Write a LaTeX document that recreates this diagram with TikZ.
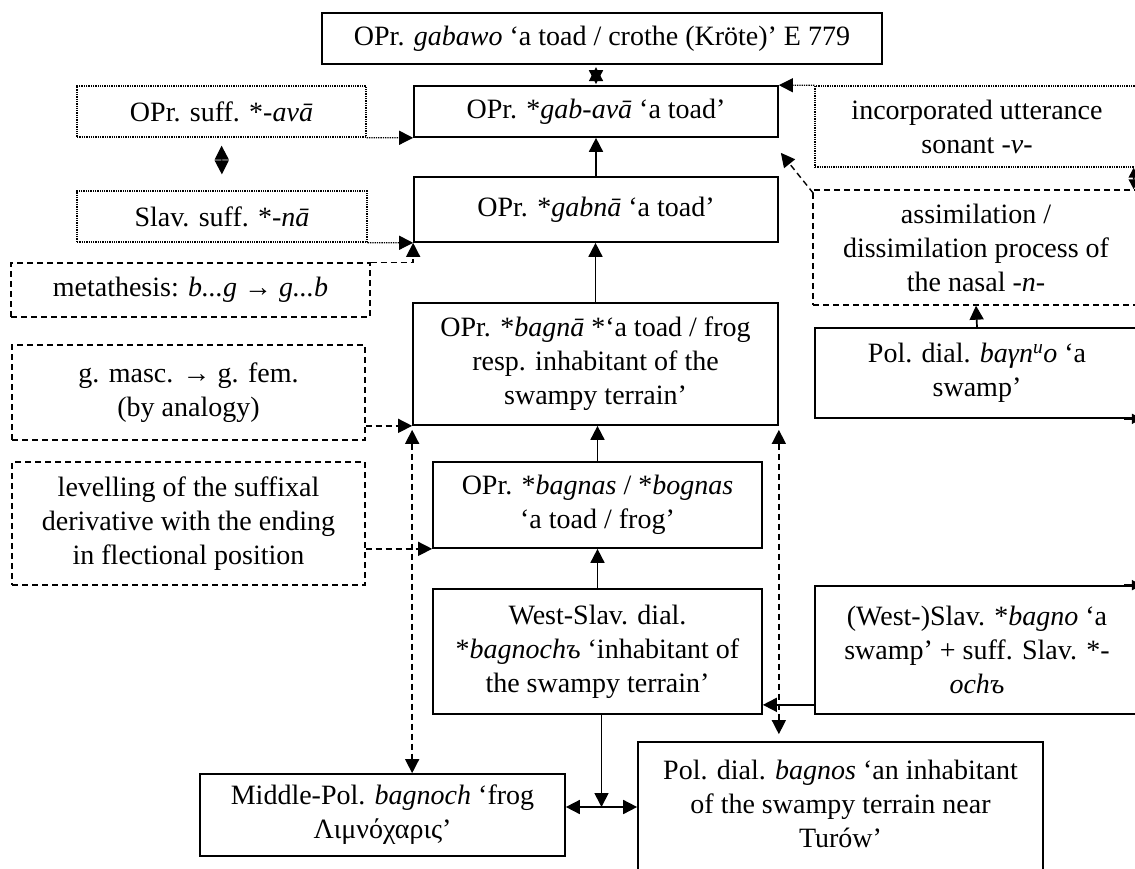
\documentclass[tikz,border=0pt]{standalone}
\usepackage{fontspec}
\setmainfont{Liberation Serif}
\usetikzlibrary{arrows.meta}

% box helper: name, style, x1, y1, x2, y2, text
\newcommand\etybox[7]{%
  \node[#2, minimum width={#5-#3}, minimum height={#6-#4}]
    (#1) at ({(#3+#5)/2},{(#4+#6)/2}) {#7};}

\begin{document}
\begin{tikzpicture}[x=1pt,y=-1pt,
  txt/.style={align=center, inner sep=0pt, font=\fontsize{28}{34}\selectfont},
  box/.style={txt, draw, line width=1.7pt},
  dotbox/.style={box, line width=1.3pt, densely dotted},
  dashbox/.style={box, line width=1.4pt, dash pattern=on 6pt off 4pt},
  solidc/.style={line width=1.7pt},
  dotc/.style={line width=1.3pt, densely dotted},
  dashc/.style={line width=1.4pt, dash pattern=on 6pt off 4pt},
  tip/.tip={Triangle[length=14pt,width=14pt]},
  stip/.tip={Triangle[length=10pt,width=10pt]},
  ]
\clip (0,0) rectangle (1135,869);
\fill[white] (0,0) rectangle (1135,869);

% central chain
\etybox{top}{box}{322}{13}{882}{64}{OPr. \textit{gabawo} ‘a toad / crothe (Kröte)’ E 779}
\etybox{gabava}{box}{414}{86}{778}{137}{OPr. *\textit{gab-avā} ‘a toad’}
\etybox{gabna}{box}{414}{177}{778}{242}{OPr. *\textit{gabnā} ‘a toad’}
\etybox{bagna}{box}{413}{303}{778}{425}{OPr. *\textit{bagnā} *‘a toad / frog\\resp. inhabitant of the\\swampy terrain’}
\etybox{bagnas}{box}{433}{462}{762}{548}{OPr. *\textit{bagnas} / *\textit{bognas}\\‘a toad / frog’}
\etybox{westslav}{box}{433}{589}{762}{714}{West-Slav. dial.\\*\textit{bagnochъ} ‘inhabitant of\\the swampy terrain’}
\etybox{middlepol}{box}{200}{774}{565}{856}{Middle-Pol. \textit{bagnoch} ‘frog\\Λιμνόχαρις’}
\etybox{bagnos}{box}{638}{742}{1043}{885}{}
\node[txt] (bagnostext) at ([yshift=10pt]bagnos.center)
  {Pol. dial. \textit{bagnos} ‘an inhabitant\\of the swampy terrain near\\Turów’};

% left-hand processes
\etybox{ava}{dotbox}{77}{86}{366}{137}{OPr. suff. *-\textit{avā}}
\etybox{slavsuff}{dotbox}{77}{191}{367}{242}{Slav. suff. *-\textit{nā}}
\etybox{meta}{dashbox}{11}{263}{370}{317}{metathesis: \textit{b...g} → \textit{g...b}}
\etybox{gmasc}{dashbox}{12}{345}{365}{440}{g. masc. → g. fem.\\(by analogy)}
\etybox{lev}{dashbox}{12}{462}{365}{585}{levelling of the suffixal\\derivative with the ending\\in flectional position}

% right-hand processes and sources
\etybox{incorp}{dotbox}{815}{86}{1139}{167}{incorporated utterance\\sonant -\textit{v}-}
\etybox{assim}{dashbox}{813}{190}{1139}{305}{assimilation /\\dissimilation process of\\the nasal -\textit{n}-}
\etybox{poldial}{box}{815}{328}{1139}{418}{Pol. dial. \textit{baγn\textsuperscript{u}o} ‘a\\swamp’}
\etybox{wsb}{box}{815}{586}{1139}{714}{(West-)Slav. *\textit{bagno} ‘a\\swamp’ + suff. Slav. *-\\\textit{ochъ}}

% solid derivations: the two overlapping heads between the top boxes
\draw[solidc, -tip] ([yshift=4pt]gabava.north) -- ([yshift=18pt]gabava.north);
\draw[solidc, -tip] ([yshift=-4pt]top.south -| gabava.north) -- ([yshift=1pt]gabava.north);
\draw[solidc, -tip] (gabna.north) -- (gabava.south);
\draw[solidc, -tip] (bagna.north) -- (bagna.north |- gabna.south);
\draw[solidc, -tip] (bagnas.north) -- (bagnas.north |- bagna.south);
\draw[solidc, -tip] (westslav.north) -- (bagnas.south);
\coordinate (fork) at ([xshift=4pt]westslav.south |- 0,807);
\draw[solidc, -tip] ([xshift=4pt]westslav.south) -- (fork);
\draw[solidc, tip-tip] (middlepol.east |- fork) -- (bagnos.west |- fork);
\coordinate (wsbout) at ([yshift=10pt]wsb.south west);
\draw[solidc, -tip] (wsbout) -- (westslav.east |- wsbout);
\draw[solidc, -tip] (poldial.north) -- (assim.south);

% dashed links
\draw[dashc, tip-tip, shorten <=4pt, shorten >=7pt] (bagna.south east) -- (bagna.south east |- bagnos.north);
\draw[dashc, tip-tip, shorten <=4pt] (bagna.south west) -- (bagna.south west |- middlepol.north);
\draw[dashc, -tip] (gmasc.east |- bagna.south) -- (bagna.south west);
\draw[dashc, -tip] (lev.east |- bagnas.south) -- (bagnas.south west);
\draw[dashc, -tip] (meta.north east) -| (gabna.south west);
\draw[dashc, -tip] ([shift={(1pt,-4pt)}]assim.north west) -- ([shift={(2pt,-15pt)}]gabava.south east);

% dotted links
\draw[dotc, -tip] (ava.south east) -- (gabava.south west);
\draw[dotc, -tip] (slavsuff.south east) -- (gabna.south west);
\draw[dotc, tip-tip, shorten <=8pt, shorten >=16pt] (ava.south) -- (slavsuff.north);
\draw[dotc, -tip] (incorp.north west) -- (gabava.north east);

% links running off the right edge
\draw[solidc, stip-stip] ([xshift=-6pt]incorp.south east) -- ([xshift=-6pt]assim.north east);
\draw[solidc, -stip] ([xshift=-16pt]poldial.south east) -- ([xshift=2pt]poldial.south east);
\draw[solidc, -stip] ([xshift=-16pt]wsb.north east) -- ([xshift=2pt]wsb.north east);
\end{tikzpicture}
\end{document}
